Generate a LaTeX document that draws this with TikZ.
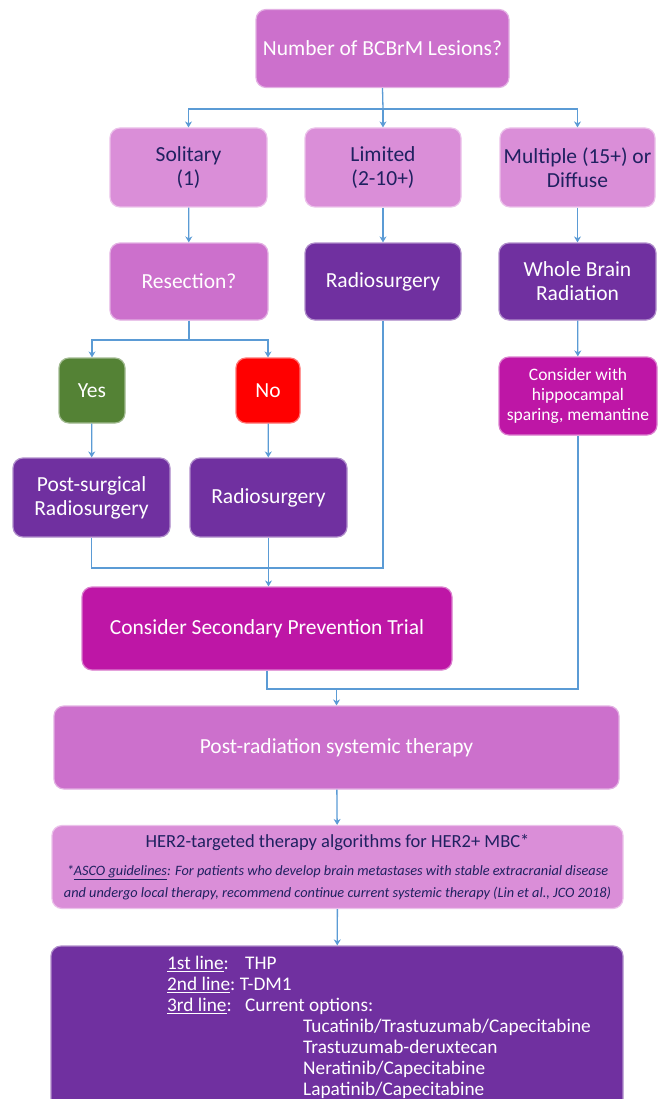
\documentclass[tikz,border=0pt]{standalone}
\usepackage{fontspec}
\setmainfont{Carlito}
\usetikzlibrary{arrows.meta}

\definecolor{orchidbox}{HTML}{CC70CC}
\definecolor{lightorchid}{HTML}{DA8ED8}
\definecolor{deeppurple}{HTML}{7030A0}
\definecolor{magentabox}{HTML}{BE16A6}
\definecolor{yesgreen}{HTML}{548235}
\definecolor{nored}{HTML}{FF0000}
\definecolor{linkblue}{HTML}{5B9BD5}
\definecolor{navytext}{HTML}{1F2160}

\tikzset{
    flowbox/.style={rectangle, rounded corners=10pt, inner sep=2pt, align=center,
        line width=1.2pt, text=white, font=\fontsize{21.5}{24}\selectfont},
    medbox/.style={flowbox, fill=orchidbox, draw=orchidbox!55!white},
    lightbox/.style={flowbox, fill=lightorchid, draw=lightorchid!55!white, text=navytext},
    darkbox/.style={flowbox, fill=deeppurple, draw=deeppurple!55!white},
    hotbox/.style={flowbox, fill=magentabox, draw=magentabox!55!white},
    link/.style={draw=linkblue, line width=1.3pt},
    arrow/.style={link, -{Stealth[length=6pt,width=7pt]}},
}

\begin{document}
\begin{tikzpicture}[x=1pt,y=-1pt]
        % page frame (pixels of the reference)
        \clip (0,0) rectangle (665,1099);

        % Question and number of lesions
        \node[medbox, minimum width=253pt, minimum height=78pt]
            (lesions) at (382.5,48.5) {Number of BCBrM Lesions?};
        \node[lightbox, minimum width=157pt, minimum height=79pt] (solitary) at (188.5,167.5) {Solitary\\(1)};
        \node[lightbox, minimum width=156pt, minimum height=79pt] (limited) at (383,167.5) {Limited\\(2-10+)};
        \node[lightbox, minimum width=155pt, minimum height=79pt] (multiple) at (577.5,167.5) {Multiple (15+) or\\Diffuse};

        % Second row
        \node[medbox, minimum width=158pt, minimum height=77pt] (resection) at (189,281.5) {Resection?};
        \node[darkbox, minimum width=156pt, minimum height=77pt] (radio) at (383,281.5) {Radiosurgery};
        \node[darkbox, minimum width=157pt, minimum height=77pt] (wbrt) at (577.5,281.5) {Whole Brain\\Radiation};

        % Resection answers
        \node[flowbox, fill=yesgreen, draw=yesgreen!55!white, minimum width=66pt, minimum height=65pt] (yes) at (92,390.5) {Yes};
        \node[flowbox, fill=nored, draw=nored!55!white, minimum width=64pt, minimum height=65pt] (no) at (268,390.5) {No};
        \node[hotbox, minimum width=158pt, minimum height=78pt, font=\fontsize{17.5}{20}\selectfont]
            (consider) at (578,396) {Consider with\\hippocampal\\sparing, memantine};

        \node[darkbox, minimum width=157pt, minimum height=79pt] (postsurg) at (91.5,497.5) {Post-surgical\\Radiosurgery};
        \node[darkbox, minimum width=157pt, minimum height=79pt] (radiotwo) at (268.5,497.5) {Radiosurgery};

        % Trial and systemic therapy
        \node[hotbox, minimum width=370pt, minimum height=83pt] (trial) at (267,628.5) {Consider Secondary Prevention Trial};
        \node[medbox, minimum width=565pt, minimum height=83pt] (postrad) at (336.5,747.5) {Post-radiation systemic therapy};
        \node[lightbox, minimum width=571pt, minimum height=83pt] (her2) at (337.5,867)
            {{\fontsize{18.5}{22}\selectfont HER2-targeted therapy algorithms for HER2+ MBC*}\\[4pt]
             {\fontsize{14.3}{17}\selectfont\itshape *\underline{ASCO guidelines}: For patients who develop brain metastases with stable extracranial disease}\\[-2pt]
             {\fontsize{14.3}{17}\selectfont\itshape and undergo local therapy, recommend continue current systemic therapy (Lin et al., JCO 2018)}};
        \node[darkbox, minimum width=572pt, minimum height=164pt] (lines) at (337,1028) {};
        \node[anchor=north west, inner sep=0pt, align=left, text=white, font=\fontsize{19.3}{21}\selectfont]
            (linetext) at (167,956)
            {\makebox[78pt][l]{\underline{1st line}:}THP\\
             \underline{2nd line}:\ T-DM1\\
             \makebox[78pt][l]{\underline{3rd line}:}Current options:\\
             \hspace*{136pt}Tucatinib/Trastuzumab/Capecitabine\\
             \hspace*{136pt}Trastuzumab-deruxtecan\\
             \hspace*{136pt}Neratinib/Capecitabine\\
             \hspace*{136pt}Lapatinib/Capecitabine};

        % Junctions
        \coordinate (splitone) at (383,109);
        \coordinate (splittwo) at (189,340);
        \coordinate (jointhree) at (268,568);
        \coordinate (joinfour) at (336.5,689);

        % Connectors
        \draw[link] (lesions.south) -- (splitone);
        \draw[arrow] (splitone) -| (solitary.north);
        \draw[arrow] (splitone) -- (limited.north);
        \draw[arrow] (splitone) -| (multiple.north);

        \draw[arrow] (solitary) -- (resection);
        \draw[arrow] (limited) -- (radio);
        \draw[arrow] (multiple) -- (wbrt);
        \draw[arrow] (wbrt) -- (consider);

        \draw[link] (resection.south) -- (splittwo);
        \draw[arrow] (splittwo) -| (yes.north);
        \draw[arrow] (splittwo) -| (no.north);
        \draw[arrow] (yes) -- (postsurg);
        \draw[arrow] (no) -- (radiotwo);

        \draw[link] (postsurg.south) |- (radio.south |- jointhree) -- (radio.south);
        \draw[arrow] (radiotwo.south) -- (trial.north -| radiotwo.south);

        \draw[link] (trial.south) |- (consider.south |- joinfour) -- (consider.south);
        \draw[arrow] (joinfour) -- (postrad.north);
        \draw[arrow] (postrad) -- (her2);
        \draw[arrow] (her2) -- (lines);
\end{tikzpicture}
\end{document}
